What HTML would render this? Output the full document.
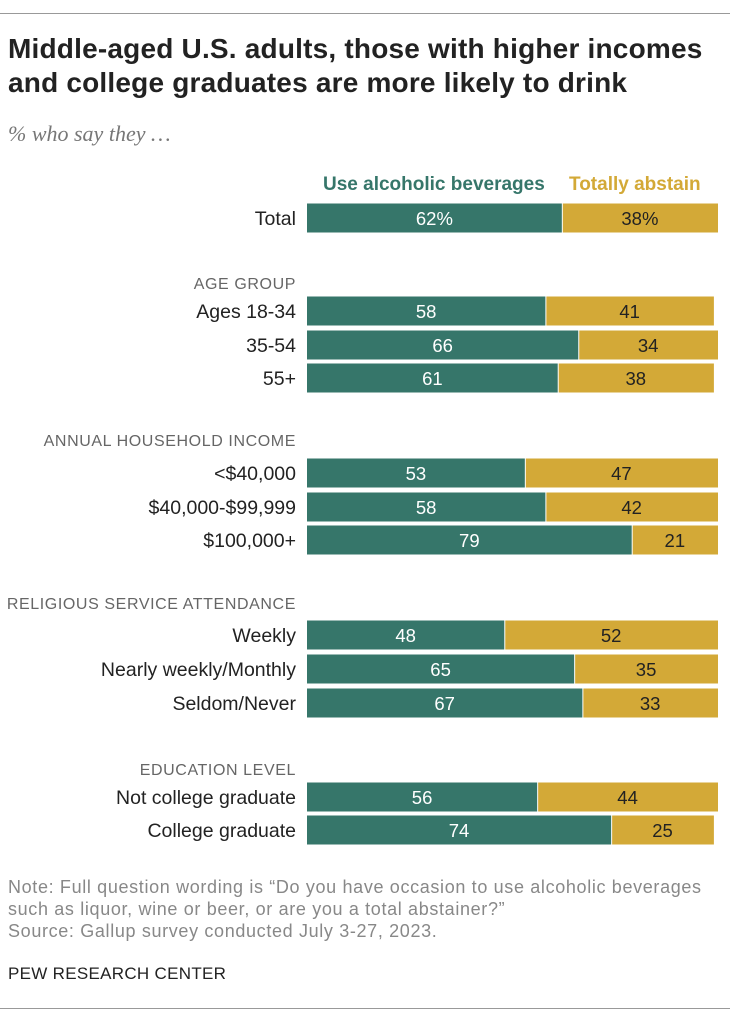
<!DOCTYPE html>
<html><head><meta charset="utf-8"><style>
body{margin:0;background:#fff;font-family:"Liberation Sans",sans-serif;}
#wrap{position:relative;width:730px;height:1023px;overflow:hidden}
.t{position:absolute;white-space:nowrap}
</style></head><body>
<div id="wrap">
<div style="position:absolute;left:0;top:13px;width:730px;height:1px;background:#999"></div>
<div class="t" style="left:8px;top:32px;font-size:28px;font-weight:bold;line-height:34px;color:#222;letter-spacing:0.2px">Middle-aged U.S. adults, those with higher incomes<br>and college graduates are more likely to drink</div>
<div class="t" style="left:8px;top:121px;font-size:22px;font-style:italic;color:#777;font-family:'Liberation Serif',serif">% who say they …</div>
<div class="t" style="left:323px;top:174px;font-size:19px;font-weight:bold;color:#36766a">Use alcoholic beverages</div>
<div class="t" style="left:569px;top:174px;font-size:19px;font-weight:bold;color:#d3a937">Totally abstain</div>
<svg id="chart" width="730" height="1023" style="position:absolute;left:0;top:0"></svg>
<div class="t" style="left:8px;top:876px;font-size:18px;line-height:22px;color:#888;letter-spacing:0.65px">Note: Full question wording is “Do you have occasion to use alcoholic beverages<br>such as liquor, wine or beer, or are you a total abstainer?”<br>Source: Gallup survey conducted July 3-27, 2023.</div>
<div class="t" style="left:8px;top:964px;font-size:17px;color:#222;letter-spacing:0.3px">PEW RESEARCH CENTER</div>
<div style="position:absolute;left:0;top:1008px;width:730px;height:1px;background:#999"></div>
</div>
<script>
const categories=["Total","Ages 18-34","35-54","55+","<$40,000","$40,000-$99,999","$100,000+","Weekly","Nearly weekly/Monthly","Seldom/Never","Not college graduate","College graduate"];
const useValues=[62,58,66,61,53,58,79,48,65,67,56,74];
const abstainValues=[38,41,34,38,47,42,21,52,35,33,44,25];
const headers=["AGE GROUP","ANNUAL HOUSEHOLD INCOME","RELIGIOUS SERVICE ATTENDANCE","EDUCATION LEVEL"];
const rowCenters=[218,311,345,378,473,507,540,635,669,703,797,830];
const headerY=[283,440,603,769];
const svg=document.getElementById('chart');
const NS='http://www.w3.org/2000/svg';
const x0=307,scale=4.11,bh=29;
function xs(v){return v*scale;}
function mk(tag,attrs){const e=document.createElementNS(NS,tag);for(const k in attrs)e.setAttribute(k,attrs[k]);svg.appendChild(e);return e;}
categories.forEach((c,i)=>{
  const cy=rowCenters[i],y=cy-bh/2;
  const lab=mk('text',{x:296,y:cy+7,'text-anchor':'end','font-size':19.5,fill:'#222','font-family':'Liberation Sans, sans-serif'});
  lab.textContent=c;
  
  
  const w1=xs(useValues[i]);
  const b1=mk('rect',{x:x0,y:y,width:w1,height:bh,fill:'#36766a'});
  
  
  const w2=xs(abstainValues[i]);
  const b2=mk('rect',{x:x0+w1+1,y:y,width:w2-1,height:bh,fill:'#d3a937'});
  
  
  const sfx=i===0?'%':'';
  const t1=mk('text',{x:x0+w1/2,y:cy+7,'text-anchor':'middle','font-size':18.5,fill:'#fff','font-family':'Liberation Sans, sans-serif'});
  t1.textContent=useValues[i]+sfx;
  
  
  const t2=mk('text',{x:x0+w1+w2/2,y:cy+7,'text-anchor':'middle','font-size':18.5,fill:'#222','font-family':'Liberation Sans, sans-serif'});
  t2.textContent=abstainValues[i]+sfx;
  
  
});
headers.forEach((h,i)=>{
  const t=mk('text',{x:296,y:headerY[i]+6,'text-anchor':'end','font-size':16,fill:'#666','letter-spacing':'0.6','font-family':'Liberation Sans, sans-serif'});
  t.textContent=h;
  
  
});
</script>
</body></html>
